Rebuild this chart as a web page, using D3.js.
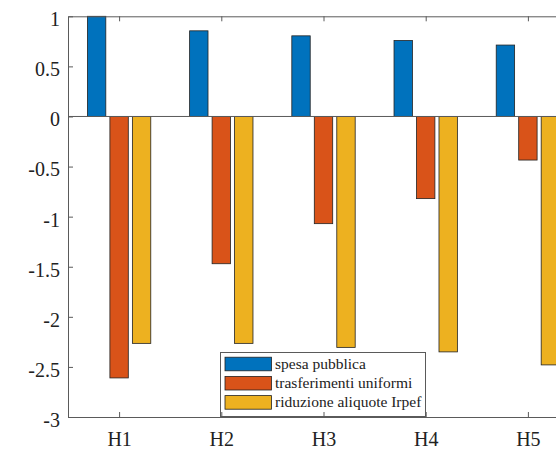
<!DOCTYPE html>
<html>
<head>
<meta charset="utf-8">
<script src="https://cdn.jsdelivr.net/npm/d3@7"></script>
<style>
  body { margin: 0; background: #fff; }
  svg { display: block; }
</style>
</head>
<body>
<div class="chart"></div>
<script>
var categories = ['H1', 'H2', 'H3', 'H4', 'H5']
var seriesNames = ['spesa pubblica', 'trasferimenti uniformi', 'riduzione aliquote Irpef']
var spesaPubblica = [1.0, 0.855, 0.805, 0.758, 0.713]
var trasferimenti = [-2.61, -1.47, -1.07, -0.82, -0.435]
var riduzioneIrpef = [-2.265, -2.265, -2.305, -2.35, -2.48]
var yTicks = [1, 0.5, 0, -0.5, -1, -1.5, -2, -2.5, -3]

var colors = ['#0072BD', '#D95319', '#EDB120']
var allSeries = [spesaPubblica, trasferimenti, riduzioneIrpef]

var width = 556
var height = 449
var axisColor = '#5a5a5a'
var textColor = '#222'
var font = '"Liberation Serif", "Times New Roman", serif'

var svg = d3.select('.chart')
  .append('svg')
  .attr('width', width)
  .attr('height', height)

var x = d3.scaleLinear().domain([0.5, 5.5]).range([68, 579])
var y = d3.scaleLinear().domain([-3, 1]).range([417, 16.3])

var offsets = [-0.22, 0, 0.22]
var barW = 0.18

// bars
var bars = svg.append('g').attr('class', 'bars')
allSeries.forEach(function (vals, s) {
  bars.selectAll('.bar' + s)
    .data(vals)
    .enter().append('rect')
    .attr('x', function (d, i) { return x(i + 1 + offsets[s] - barW / 2) })
    .attr('width', x(barW) - x(0))
    .attr('y', function (d) { return y(Math.max(d, 0)) })
    .attr('height', function (d) { return Math.abs(y(d) - y(0)) })
    .attr('fill', colors[s])
    .attr('stroke', '#222')
    .attr('stroke-width', 0.8)
})

// zero line
svg.append('line')
  .attr('x1', x(0.5)).attr('x2', x(5.5))
  .attr('y1', y(0)).attr('y2', y(0))
  .attr('stroke', axisColor)
  .attr('stroke-width', 1)

// legend
var leg = svg.append('g').attr('class', 'legend')
leg.append('rect')
  .attr('x', 220.5).attr('y', 352.5)
  .attr('width', 205).attr('height', 64)
  .attr('fill', '#fff')
  .attr('stroke', axisColor)
  .attr('stroke-width', 1)

seriesNames.forEach(function (name, i) {
  var cy = 364 + i * 19.2
  leg.append('rect')
    .attr('x', 225).attr('y', cy - 6.8)
    .attr('width', 46.5).attr('height', 13.6)
    .attr('fill', colors[i])
    .attr('stroke', '#222')
    .attr('stroke-width', 0.8)
  leg.append('text')
    .attr('x', 275).attr('y', cy + 4.5)
    .style('font-family', font)
    .style('font-size', '15.5px')
    .attr('fill', textColor)
    .text(name)
})

// axes
var yAxis = d3.axisLeft(y)
  .tickValues(yTicks)
  .tickFormat(function (d) { return String(d).replace('\u2212', '-') })
  .tickSizeInner(-5)
  .tickSizeOuter(0)
  .tickPadding(8)

var gy = svg.append('g')
  .attr('transform', 'translate(' + x(0.5) + ',0)')
  .call(yAxis)
gy.selectAll('text').attr('dy', '0.47em')

var xAxis = d3.axisBottom(x)
  .tickValues([1, 2, 3, 4, 5])
  .tickFormat(function (d) { return categories[d - 1] })
  .tickSizeInner(-5)
  .tickSizeOuter(0)
  .tickPadding(15)

svg.append('g')
  .attr('transform', 'translate(0,' + y(-3) + ')')
  .call(xAxis)

var topAxis = d3.axisTop(x)
  .tickValues([1, 2, 3, 4, 5])
  .tickFormat('')
  .tickSizeInner(-5)
  .tickSizeOuter(0)

svg.append('g')
  .attr('transform', 'translate(0,' + y(1) + ')')
  .call(topAxis)

svg.selectAll('.domain, .tick line')
  .attr('stroke', axisColor)
  .attr('stroke-width', 1)
svg.selectAll('.tick text')
  .style('font-family', font)
  .style('font-size', '20px')
  .attr('fill', textColor)
</script>
</body>
</html>
